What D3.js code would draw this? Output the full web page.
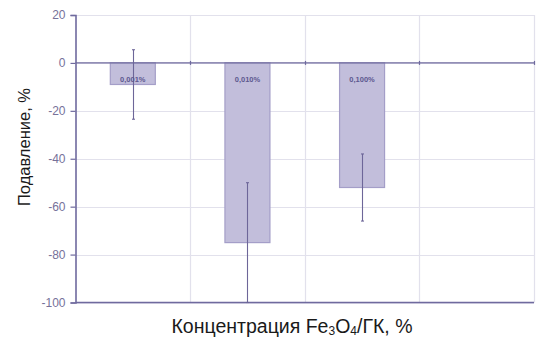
<!DOCTYPE html>
<html>
<head>
<meta charset="utf-8">
<script src="https://cdn.jsdelivr.net/npm/d3@7"></script>
<style>
  html, body { margin: 0; padding: 0; background: #fff; }
  svg { display: block; }
</style>
</head>
<body>
<svg id="chart" width="544" height="340"></svg>
<script>
// Suppression (%) for each Fe3O4/GK concentration; the fourth band is empty
const categories = ["0,001%", "0,010%", "0,100%", ""];
const values = [-9, -75, -52, null];
const errors = [14.5, 25, 14, null];
const yTicks = [20, 0, -20, -40, -60, -80, -100];

const W = 544, H = 340;
const margin = { top: 15, right: 10, bottom: 37.5, left: 75.5 };
const svg = d3.select("#chart");
const FONT = "Liberation Sans, Arial, sans-serif";

const x = d3.scaleBand()
  .domain(categories.map((c, i) => i))
  .range([margin.left, W - margin.right])
  .paddingInner(0).paddingOuter(0);

const y = d3.scaleLinear()
  .domain([-100, 20])
  .range([H - margin.bottom, margin.top]);

const gridColor = "#e2e1ec";
const axisColor = "#6f6a9e";

// horizontal grid
svg.append("g").selectAll("line").data(yTicks).join("line")
  .attr("x1", margin.left).attr("x2", W - margin.right)
  .attr("y1", d => Math.round(y(d)) + 0.5).attr("y2", d => Math.round(y(d)) + 0.5)
  .attr("stroke", gridColor).attr("stroke-width", 1.2);

// vertical grid at band edges
const edges = categories.map((c, i) => x(i)).concat([x(categories.length - 1) + x.bandwidth()]);
svg.append("g").selectAll("line").data(edges.slice(1)).join("line")
  .attr("x1", d => Math.round(d) + 0.5).attr("x2", d => Math.round(d) + 0.5)
  .attr("y1", y(20)).attr("y2", y(-100))
  .attr("stroke", gridColor).attr("stroke-width", 1.2);

// bars
const barW = 45;
const idx = values.map((v, i) => i).filter(i => values[i] !== null);
svg.append("g").selectAll("rect").data(idx).join("rect")
  .attr("x", i => x(i) + x.bandwidth() / 2 - barW / 2)
  .attr("y", i => y(Math.max(0, values[i])))
  .attr("width", barW)
  .attr("height", i => Math.abs(y(values[i]) - y(0)))
  .attr("fill", "#c2bedb")
  .attr("stroke", "#a49ec8")
  .attr("stroke-width", 1.2);

// zero axis line with small ticks
svg.append("line")
  .attr("x1", margin.left).attr("x2", W - margin.right)
  .attr("y1", y(0)).attr("y2", y(0))
  .attr("stroke", axisColor).attr("stroke-width", 1.4);
svg.append("g").selectAll("line").data(edges.slice(1)).join("line")
  .attr("x1", d => Math.round(d) + 0.5).attr("x2", d => Math.round(d) + 0.5)
  .attr("y1", y(0) - 2).attr("y2", y(0) + 2)
  .attr("stroke", axisColor).attr("stroke-width", 1.2);

// bottom line at -100
svg.append("line")
  .attr("x1", margin.left).attr("x2", W - margin.right)
  .attr("y1", y(-100)).attr("y2", y(-100))
  .attr("stroke", axisColor).attr("stroke-width", 1.6);

// error bars
const eb = svg.append("g").attr("stroke", "#6d6699").attr("stroke-width", 1.1);
idx.forEach(i => {
  const cx = Math.round(x(i) + x.bandwidth() / 2) + 0.5;
  const lo = Math.max(-100, values[i] - errors[i]);
  const hi = values[i] + errors[i];
  eb.append("line").attr("x1", cx).attr("x2", cx).attr("y1", y(hi)).attr("y2", y(lo));
  eb.append("line").attr("x1", cx - 1.5).attr("x2", cx + 1.5).attr("y1", y(hi)).attr("y2", y(hi));
  eb.append("line").attr("x1", cx - 1.5).attr("x2", cx + 1.5).attr("y1", y(lo)).attr("y2", y(lo));
});

// bar labels
svg.append("g").selectAll("text").data(idx).join("text")
  .attr("x", i => x(i) + x.bandwidth() / 2)
  .attr("y", y(0) + 19)
  .attr("text-anchor", "middle")
  .attr("font-family", FONT)
  .attr("font-size", 7.5)
  .attr("font-weight", "bold")
  .attr("fill", "#5d588f")
  .text(i => categories[i]);

// y axis (plain hyphen for negative numbers)
const yAxis = d3.axisLeft(y).tickValues(yTicks).tickSize(5).tickPadding(5)
  .tickFormat(d => String(d));
const gy = svg.append("g").attr("transform", `translate(${margin.left},0)`).call(yAxis);
gy.select(".domain").attr("stroke", axisColor).attr("stroke-width", 1.6);
gy.selectAll(".tick line").attr("stroke", axisColor).attr("stroke-width", 1.2);
gy.selectAll(".tick text")
  .attr("fill", "#76719a")
  .attr("font-family", FONT)
  .attr("font-size", 12);

// axis titles
svg.append("text")
  .attr("transform", `translate(30,${147}) rotate(-90)`)
  .attr("text-anchor", "middle")
  .attr("font-family", FONT)
  .attr("font-size", 16.5)
  .attr("fill", "#1a1a1a")
  .text("Подавление, %");

const xt = svg.append("text")
  .attr("x", 292).attr("y", 333)
  .attr("text-anchor", "middle")
  .attr("font-family", FONT)
  .attr("font-size", 19.5)
  .attr("fill", "#1a1a1a");
xt.append("tspan").text("Концентрация Fe");
xt.append("tspan").attr("font-size", 12).attr("dy", 2).text("3");
xt.append("tspan").attr("dy", -2).text("O");
xt.append("tspan").attr("font-size", 12).attr("dy", 2).text("4");
xt.append("tspan").attr("dy", -2).text("/ГК, %");
</script>
</body>
</html>
